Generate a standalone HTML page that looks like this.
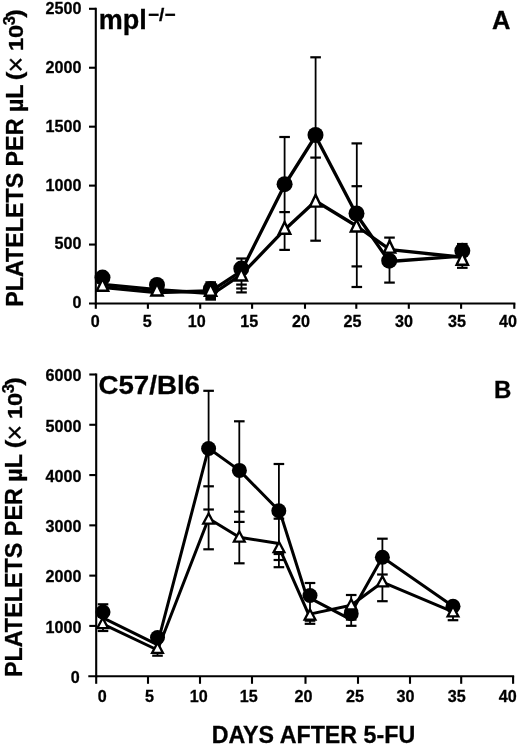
<!DOCTYPE html>
<html><head><meta charset="utf-8"><title>Platelets per uL after 5-FU</title>
<style>
html,body{margin:0;padding:0;background:#fff;}
body{width:520px;height:746px;overflow:hidden;}
svg{display:block;filter:grayscale(1) blur(0.35px);}
svg text{font-family:"Liberation Sans",sans-serif;font-weight:bold;fill:#000;stroke:#000;stroke-width:0.3px;}
</style></head><body>
<svg width="520" height="746" viewBox="0 0 520 746">
<rect x="0" y="0" width="520" height="746" fill="#fff"/>
<line x1="95.80" y1="7.75" x2="95.80" y2="304.55" stroke="#000" stroke-width="2.1" />
<line x1="89.00" y1="303.50" x2="515.35" y2="303.50" stroke="#000" stroke-width="2.1" />
<text transform="translate(81.50,308.40) scale(0.95,1)" font-size="17" text-anchor="end" >0</text>
<line x1="89.00" y1="244.56" x2="95.80" y2="244.56" stroke="#000" stroke-width="2.1" />
<text transform="translate(81.50,249.46) scale(0.95,1)" font-size="17" text-anchor="end" >500</text>
<line x1="89.00" y1="185.62" x2="95.80" y2="185.62" stroke="#000" stroke-width="2.1" />
<text transform="translate(81.50,190.52) scale(0.95,1)" font-size="17" text-anchor="end" >1000</text>
<line x1="89.00" y1="126.68" x2="95.80" y2="126.68" stroke="#000" stroke-width="2.1" />
<text transform="translate(81.50,131.58) scale(0.95,1)" font-size="17" text-anchor="end" >1500</text>
<line x1="89.00" y1="67.74" x2="95.80" y2="67.74" stroke="#000" stroke-width="2.1" />
<text transform="translate(81.50,72.64) scale(0.95,1)" font-size="17" text-anchor="end" >2000</text>
<line x1="89.00" y1="8.80" x2="95.80" y2="8.80" stroke="#000" stroke-width="2.1" />
<text transform="translate(81.50,13.70) scale(0.95,1)" font-size="17" text-anchor="end" >2500</text>
<line x1="95.80" y1="303.50" x2="95.80" y2="308.80" stroke="#000" stroke-width="2.1" />
<text transform="translate(95.20,327.20) scale(0.95,1)" font-size="17" text-anchor="middle" >0</text>
<line x1="147.90" y1="303.50" x2="147.90" y2="308.80" stroke="#000" stroke-width="2.1" />
<text transform="translate(147.30,327.20) scale(0.95,1)" font-size="17" text-anchor="middle" >5</text>
<line x1="200.20" y1="303.50" x2="200.20" y2="308.80" stroke="#000" stroke-width="2.1" />
<text transform="translate(196.70,327.20) scale(0.95,1)" font-size="17" text-anchor="middle" >10</text>
<line x1="252.10" y1="303.50" x2="252.10" y2="308.80" stroke="#000" stroke-width="2.1" />
<text transform="translate(249.20,327.20) scale(0.95,1)" font-size="17" text-anchor="middle" >15</text>
<line x1="305.00" y1="303.50" x2="305.00" y2="308.80" stroke="#000" stroke-width="2.1" />
<text transform="translate(301.00,327.20) scale(0.95,1)" font-size="17" text-anchor="middle" >20</text>
<line x1="356.30" y1="303.50" x2="356.30" y2="308.80" stroke="#000" stroke-width="2.1" />
<text transform="translate(352.50,327.20) scale(0.95,1)" font-size="17" text-anchor="middle" >25</text>
<line x1="408.80" y1="303.50" x2="408.80" y2="308.80" stroke="#000" stroke-width="2.1" />
<text transform="translate(404.00,327.20) scale(0.95,1)" font-size="17" text-anchor="middle" >30</text>
<line x1="461.10" y1="303.50" x2="461.10" y2="308.80" stroke="#000" stroke-width="2.1" />
<text transform="translate(457.10,327.20) scale(0.95,1)" font-size="17" text-anchor="middle" >35</text>
<line x1="514.30" y1="303.50" x2="514.30" y2="308.80" stroke="#000" stroke-width="2.1" />
<text transform="translate(508.10,327.20) scale(0.95,1)" font-size="17" text-anchor="middle" >40</text>
<line x1="210.70" y1="282.30" x2="210.70" y2="299.60" stroke="#000" stroke-width="1.8" />
<line x1="205.40" y1="282.30" x2="216.00" y2="282.30" stroke="#000" stroke-width="2.2" />
<line x1="205.40" y1="298.00" x2="216.00" y2="298.00" stroke="#000" stroke-width="2.2" />
<line x1="205.40" y1="299.60" x2="216.00" y2="299.60" stroke="#000" stroke-width="2.2" />
<line x1="241.50" y1="258.50" x2="241.50" y2="292.40" stroke="#000" stroke-width="1.8" />
<line x1="236.20" y1="258.50" x2="246.80" y2="258.50" stroke="#000" stroke-width="2.2" />
<line x1="236.20" y1="284.60" x2="246.80" y2="284.60" stroke="#000" stroke-width="2.2" />
<line x1="236.20" y1="288.50" x2="246.80" y2="288.50" stroke="#000" stroke-width="2.2" />
<line x1="236.20" y1="292.40" x2="246.80" y2="292.40" stroke="#000" stroke-width="2.2" />
<line x1="284.60" y1="137.00" x2="284.60" y2="249.90" stroke="#000" stroke-width="1.8" />
<line x1="279.30" y1="137.00" x2="289.90" y2="137.00" stroke="#000" stroke-width="2.2" />
<line x1="279.30" y1="212.10" x2="289.90" y2="212.10" stroke="#000" stroke-width="2.2" />
<line x1="279.30" y1="249.90" x2="289.90" y2="249.90" stroke="#000" stroke-width="2.2" />
<line x1="315.60" y1="57.30" x2="315.60" y2="240.70" stroke="#000" stroke-width="1.8" />
<line x1="310.30" y1="57.30" x2="320.90" y2="57.30" stroke="#000" stroke-width="2.2" />
<line x1="310.30" y1="157.60" x2="320.90" y2="157.60" stroke="#000" stroke-width="2.2" />
<line x1="310.30" y1="240.70" x2="320.90" y2="240.70" stroke="#000" stroke-width="2.2" />
<line x1="356.80" y1="143.40" x2="356.80" y2="287.00" stroke="#000" stroke-width="1.8" />
<line x1="351.50" y1="143.40" x2="362.10" y2="143.40" stroke="#000" stroke-width="2.2" />
<line x1="351.50" y1="186.20" x2="362.10" y2="186.20" stroke="#000" stroke-width="2.2" />
<line x1="351.50" y1="266.40" x2="362.10" y2="266.40" stroke="#000" stroke-width="2.2" />
<line x1="351.50" y1="287.00" x2="362.10" y2="287.00" stroke="#000" stroke-width="2.2" />
<line x1="389.50" y1="237.60" x2="389.50" y2="282.60" stroke="#000" stroke-width="1.8" />
<line x1="384.20" y1="237.60" x2="394.80" y2="237.60" stroke="#000" stroke-width="2.2" />
<line x1="384.20" y1="282.60" x2="394.80" y2="282.60" stroke="#000" stroke-width="2.2" />
<line x1="462.30" y1="244.00" x2="462.30" y2="267.80" stroke="#000" stroke-width="1.8" />
<line x1="457.00" y1="244.00" x2="467.60" y2="244.00" stroke="#000" stroke-width="2.2" />
<line x1="457.00" y1="264.80" x2="467.60" y2="264.80" stroke="#000" stroke-width="2.2" />
<line x1="457.00" y1="267.80" x2="467.60" y2="267.80" stroke="#000" stroke-width="2.2" />
<polyline points="102.50,287.30 157.00,292.50 208.00,291.00 214.00,293.00 241.30,274.70 284.60,229.70 315.60,201.00 356.50,226.00 390.00,249.70 455.00,256.50 462.30,257.00" fill="none" stroke="#000" stroke-width="3.3" stroke-linejoin="round" stroke-linecap="round"/>
<polyline points="102.50,284.50 157.00,289.60 205.00,293.00 212.00,290.30 241.30,271.20 284.60,185.00 315.50,136.00 356.50,214.50 389.20,261.50 455.00,256.70 462.30,256.50" fill="none" stroke="#000" stroke-width="3.3" stroke-linejoin="round" stroke-linecap="round"/>
<circle cx="102.50" cy="277.60" r="8.0" fill="#000"/>
<circle cx="157.00" cy="285.00" r="8.0" fill="#000"/>
<circle cx="210.80" cy="289.00" r="8.0" fill="#000"/>
<circle cx="241.30" cy="268.60" r="8.0" fill="#000"/>
<circle cx="284.60" cy="184.20" r="8.0" fill="#000"/>
<circle cx="315.50" cy="135.00" r="8.0" fill="#000"/>
<circle cx="356.50" cy="213.50" r="8.0" fill="#000"/>
<circle cx="389.20" cy="260.70" r="8.0" fill="#000"/>
<circle cx="462.30" cy="250.80" r="8.0" fill="#000"/>
<polygon points="102.50,279.00 96.80,290.80 108.20,290.80" fill="#fff" stroke="#000" stroke-width="2.4" stroke-linejoin="miter"/>
<polygon points="157.00,283.65 151.30,295.45 162.70,295.45" fill="#fff" stroke="#000" stroke-width="2.4" stroke-linejoin="miter"/>
<polygon points="210.60,284.00 204.90,295.80 216.30,295.80" fill="#fff" stroke="#000" stroke-width="2.4" stroke-linejoin="miter"/>
<polygon points="241.30,268.65 235.60,280.45 247.00,280.45" fill="#fff" stroke="#000" stroke-width="2.4" stroke-linejoin="miter"/>
<polygon points="284.60,222.00 278.90,233.80 290.30,233.80" fill="#fff" stroke="#000" stroke-width="2.4" stroke-linejoin="miter"/>
<polygon points="315.60,194.85 309.90,206.65 321.30,206.65" fill="#fff" stroke="#000" stroke-width="2.4" stroke-linejoin="miter"/>
<polygon points="356.50,219.70 350.80,231.50 362.20,231.50" fill="#fff" stroke="#000" stroke-width="2.4" stroke-linejoin="miter"/>
<polygon points="389.60,240.85 383.90,252.65 395.30,252.65" fill="#fff" stroke="#000" stroke-width="2.4" stroke-linejoin="miter"/>
<polygon points="462.30,252.95 456.60,264.75 468.00,264.75" fill="#fff" stroke="#000" stroke-width="2.4" stroke-linejoin="miter"/>
<text transform="translate(98.70,28.50) scale(1.0,1)" font-size="27" text-anchor="start" >mpl<tspan font-size="19" dx="1.3" dy="-7.4">&#8722;/&#8722;</tspan></text>
<text transform="translate(492.00,28.80) scale(1.0,1)" font-size="25.5" text-anchor="start" >A</text>
<line x1="96.20" y1="373.45" x2="96.20" y2="677.25" stroke="#000" stroke-width="2.1" />
<line x1="88.30" y1="676.20" x2="514.15" y2="676.20" stroke="#000" stroke-width="2.1" />
<text transform="translate(79.80,682.50) scale(0.95,1)" font-size="17" text-anchor="end" >0</text>
<line x1="89.30" y1="625.92" x2="96.20" y2="625.92" stroke="#000" stroke-width="2.1" />
<text transform="translate(81.50,632.72) scale(0.95,1)" font-size="17" text-anchor="end" >1000</text>
<line x1="89.30" y1="575.63" x2="96.20" y2="575.63" stroke="#000" stroke-width="2.1" />
<text transform="translate(81.50,582.43) scale(0.95,1)" font-size="17" text-anchor="end" >2000</text>
<line x1="89.30" y1="525.35" x2="96.20" y2="525.35" stroke="#000" stroke-width="2.1" />
<text transform="translate(81.50,532.15) scale(0.95,1)" font-size="17" text-anchor="end" >3000</text>
<line x1="89.30" y1="475.07" x2="96.20" y2="475.07" stroke="#000" stroke-width="2.1" />
<text transform="translate(81.50,481.87) scale(0.95,1)" font-size="17" text-anchor="end" >4000</text>
<line x1="89.30" y1="424.78" x2="96.20" y2="424.78" stroke="#000" stroke-width="2.1" />
<text transform="translate(81.50,431.58) scale(0.95,1)" font-size="17" text-anchor="end" >5000</text>
<line x1="89.30" y1="374.50" x2="96.20" y2="374.50" stroke="#000" stroke-width="2.1" />
<text transform="translate(81.50,381.30) scale(0.95,1)" font-size="17" text-anchor="end" >6000</text>
<line x1="96.20" y1="676.20" x2="96.20" y2="683.80" stroke="#000" stroke-width="2.1" />
<text transform="translate(102.30,702.10) scale(0.95,1)" font-size="17" text-anchor="middle" >0</text>
<line x1="148.00" y1="676.20" x2="148.00" y2="683.80" stroke="#000" stroke-width="2.1" />
<text transform="translate(149.40,702.10) scale(0.95,1)" font-size="17" text-anchor="middle" >5</text>
<line x1="200.00" y1="676.20" x2="200.00" y2="683.80" stroke="#000" stroke-width="2.1" />
<text transform="translate(198.80,702.10) scale(0.95,1)" font-size="17" text-anchor="middle" >10</text>
<line x1="252.00" y1="676.20" x2="252.00" y2="683.80" stroke="#000" stroke-width="2.1" />
<text transform="translate(248.80,702.10) scale(0.95,1)" font-size="17" text-anchor="middle" >15</text>
<line x1="305.50" y1="676.20" x2="305.50" y2="683.80" stroke="#000" stroke-width="2.1" />
<text transform="translate(303.40,702.10) scale(0.95,1)" font-size="17" text-anchor="middle" >20</text>
<line x1="358.00" y1="676.20" x2="358.00" y2="683.80" stroke="#000" stroke-width="2.1" />
<text transform="translate(354.90,702.10) scale(0.95,1)" font-size="17" text-anchor="middle" >25</text>
<line x1="410.00" y1="676.20" x2="410.00" y2="683.80" stroke="#000" stroke-width="2.1" />
<text transform="translate(405.40,702.10) scale(0.95,1)" font-size="17" text-anchor="middle" >30</text>
<line x1="461.20" y1="676.20" x2="461.20" y2="683.80" stroke="#000" stroke-width="2.1" />
<text transform="translate(456.80,702.10) scale(0.95,1)" font-size="17" text-anchor="middle" >35</text>
<line x1="513.10" y1="676.20" x2="513.10" y2="683.80" stroke="#000" stroke-width="2.1" />
<text transform="translate(507.70,702.10) scale(0.95,1)" font-size="17" text-anchor="middle" >40</text>
<line x1="103.00" y1="604.30" x2="103.00" y2="631.00" stroke="#000" stroke-width="1.8" />
<line x1="97.70" y1="604.30" x2="108.30" y2="604.30" stroke="#000" stroke-width="2.2" />
<line x1="97.70" y1="631.00" x2="108.30" y2="631.00" stroke="#000" stroke-width="2.2" />
<line x1="157.50" y1="640.00" x2="157.50" y2="655.70" stroke="#000" stroke-width="1.8" />
<line x1="152.20" y1="640.00" x2="162.80" y2="640.00" stroke="#000" stroke-width="2.2" />
<line x1="152.20" y1="655.70" x2="162.80" y2="655.70" stroke="#000" stroke-width="2.2" />
<line x1="208.60" y1="390.80" x2="208.60" y2="549.30" stroke="#000" stroke-width="1.8" />
<line x1="203.30" y1="390.80" x2="213.90" y2="390.80" stroke="#000" stroke-width="2.2" />
<line x1="203.30" y1="486.30" x2="213.90" y2="486.30" stroke="#000" stroke-width="2.2" />
<line x1="203.30" y1="509.50" x2="213.90" y2="509.50" stroke="#000" stroke-width="2.2" />
<line x1="203.30" y1="549.30" x2="213.90" y2="549.30" stroke="#000" stroke-width="2.2" />
<line x1="239.30" y1="421.30" x2="239.30" y2="563.30" stroke="#000" stroke-width="1.8" />
<line x1="234.00" y1="421.30" x2="244.60" y2="421.30" stroke="#000" stroke-width="2.2" />
<line x1="234.00" y1="511.70" x2="244.60" y2="511.70" stroke="#000" stroke-width="2.2" />
<line x1="234.00" y1="521.90" x2="244.60" y2="521.90" stroke="#000" stroke-width="2.2" />
<line x1="234.00" y1="563.30" x2="244.60" y2="563.30" stroke="#000" stroke-width="2.2" />
<line x1="278.90" y1="464.00" x2="278.90" y2="567.20" stroke="#000" stroke-width="1.8" />
<line x1="273.60" y1="464.00" x2="284.20" y2="464.00" stroke="#000" stroke-width="2.2" />
<line x1="273.60" y1="518.70" x2="284.20" y2="518.70" stroke="#000" stroke-width="2.2" />
<line x1="273.60" y1="554.00" x2="284.20" y2="554.00" stroke="#000" stroke-width="2.2" />
<line x1="273.60" y1="560.00" x2="284.20" y2="560.00" stroke="#000" stroke-width="2.2" />
<line x1="273.60" y1="567.20" x2="284.20" y2="567.20" stroke="#000" stroke-width="2.2" />
<line x1="310.00" y1="583.00" x2="310.00" y2="623.80" stroke="#000" stroke-width="1.8" />
<line x1="304.70" y1="583.00" x2="315.30" y2="583.00" stroke="#000" stroke-width="2.2" />
<line x1="304.70" y1="620.70" x2="315.30" y2="620.70" stroke="#000" stroke-width="2.2" />
<line x1="304.70" y1="623.80" x2="315.30" y2="623.80" stroke="#000" stroke-width="2.2" />
<line x1="351.20" y1="595.00" x2="351.20" y2="625.80" stroke="#000" stroke-width="1.8" />
<line x1="345.90" y1="595.00" x2="356.50" y2="595.00" stroke="#000" stroke-width="2.2" />
<line x1="345.90" y1="607.40" x2="356.50" y2="607.40" stroke="#000" stroke-width="2.2" />
<line x1="345.90" y1="619.60" x2="356.50" y2="619.60" stroke="#000" stroke-width="2.2" />
<line x1="345.90" y1="625.80" x2="356.50" y2="625.80" stroke="#000" stroke-width="2.2" />
<line x1="382.40" y1="538.70" x2="382.40" y2="601.20" stroke="#000" stroke-width="1.8" />
<line x1="377.10" y1="538.70" x2="387.70" y2="538.70" stroke="#000" stroke-width="2.2" />
<line x1="377.10" y1="574.50" x2="387.70" y2="574.50" stroke="#000" stroke-width="2.2" />
<line x1="377.10" y1="601.20" x2="387.70" y2="601.20" stroke="#000" stroke-width="2.2" />
<line x1="453.00" y1="604.00" x2="453.00" y2="620.20" stroke="#000" stroke-width="1.8" />
<line x1="447.70" y1="604.00" x2="458.30" y2="604.00" stroke="#000" stroke-width="2.2" />
<line x1="447.70" y1="620.20" x2="458.30" y2="620.20" stroke="#000" stroke-width="2.2" />
<polyline points="103.00,624.20 157.50,650.00 208.60,518.50 239.30,537.20 277.30,543.30 308.60,614.40 351.20,605.30 382.40,582.23 453.00,611.98" fill="none" stroke="#000" stroke-width="3.0" stroke-linejoin="round" stroke-linecap="round"/>
<polyline points="103.00,617.90 157.30,644.60 208.60,448.20 239.40,470.40 279.80,511.50 306.60,596.30 348.10,618.20 382.40,557.20 453.00,606.20" fill="none" stroke="#000" stroke-width="3.0" stroke-linejoin="round" stroke-linecap="round"/>
<circle cx="103.00" cy="612.00" r="7.5" fill="#000"/>
<circle cx="157.50" cy="637.50" r="7.5" fill="#000"/>
<circle cx="208.60" cy="448.50" r="7.5" fill="#000"/>
<circle cx="239.40" cy="470.40" r="7.5" fill="#000"/>
<circle cx="278.80" cy="510.80" r="7.5" fill="#000"/>
<circle cx="310.00" cy="595.50" r="7.5" fill="#000"/>
<circle cx="351.20" cy="613.70" r="7.5" fill="#000"/>
<circle cx="382.40" cy="557.20" r="7.5" fill="#000"/>
<circle cx="453.00" cy="606.20" r="7.5" fill="#000"/>
<polygon points="102.70,618.00 97.30,628.20 108.10,628.20" fill="#fff" stroke="#000" stroke-width="2.3" stroke-linejoin="miter"/>
<polygon points="157.50,642.70 152.10,652.90 162.90,652.90" fill="#fff" stroke="#000" stroke-width="2.3" stroke-linejoin="miter"/>
<polygon points="208.60,513.50 203.20,523.70 214.00,523.70" fill="#fff" stroke="#000" stroke-width="2.3" stroke-linejoin="miter"/>
<polygon points="239.30,531.35 233.90,541.55 244.70,541.55" fill="#fff" stroke="#000" stroke-width="2.3" stroke-linejoin="miter"/>
<polygon points="279.00,541.95 273.60,552.15 284.40,552.15" fill="#fff" stroke="#000" stroke-width="2.3" stroke-linejoin="miter"/>
<polygon points="310.00,609.35 304.60,619.55 315.40,619.55" fill="#fff" stroke="#000" stroke-width="2.3" stroke-linejoin="miter"/>
<polygon points="351.20,599.30 345.80,609.50 356.60,609.50" fill="#fff" stroke="#000" stroke-width="2.3" stroke-linejoin="miter"/>
<polygon points="382.40,576.20 377.00,586.40 387.80,586.40" fill="#fff" stroke="#000" stroke-width="2.3" stroke-linejoin="miter"/>
<polygon points="453.00,606.25 447.60,616.45 458.40,616.45" fill="#fff" stroke="#000" stroke-width="2.3" stroke-linejoin="miter"/>
<text transform="translate(98.50,394.40) scale(1.0,1)" font-size="26" text-anchor="start" textLength="101.5" lengthAdjust="spacingAndGlyphs">C57/Bl6</text>
<text transform="translate(494.00,398.00) scale(1.0,1)" font-size="24" text-anchor="start" >B</text>
<g transform="translate(23.2,306.8) rotate(-90)">
<text x="0" y="0" font-size="23.5" textLength="222.3" lengthAdjust="spacingAndGlyphs">PLATELETS PER &#181;L</text>
<text transform="translate(230.80,-1.5) scale(1.15,1)" font-size="22.5" text-anchor="middle">(</text>
<text x="242.30" y="2" font-size="27" style="font-weight:normal" text-anchor="middle">&#215;</text>
<text transform="translate(268.80,0) scale(1.15,1)" font-size="20.5" text-anchor="middle">10</text>
<text x="286.20" y="-8.2" font-size="16.5" text-anchor="middle">3</text>
<text transform="translate(293.40,-1.5) scale(1.15,1)" font-size="22.5" text-anchor="middle">)</text>
</g>
<g transform="translate(22.4,677.1) rotate(-90)">
<text x="0" y="0" font-size="23.5" textLength="223.2" lengthAdjust="spacingAndGlyphs">PLATELETS PER &#181;L</text>
<text transform="translate(233.10,-1.5) scale(1.15,1)" font-size="22.5" text-anchor="middle">(</text>
<text x="244.60" y="2" font-size="27" style="font-weight:normal" text-anchor="middle">&#215;</text>
<text transform="translate(271.10,0) scale(1.15,1)" font-size="20.5" text-anchor="middle">10</text>
<text x="288.50" y="-8.2" font-size="16.5" text-anchor="middle">3</text>
<text transform="translate(295.70,-1.5) scale(1.15,1)" font-size="22.5" text-anchor="middle">)</text>
</g>
<text transform="translate(211.70,743.00) scale(1.0,1)" font-size="23" text-anchor="start" textLength="203.5" lengthAdjust="spacingAndGlyphs">DAYS AFTER 5-FU</text>
</svg>
</body></html>
